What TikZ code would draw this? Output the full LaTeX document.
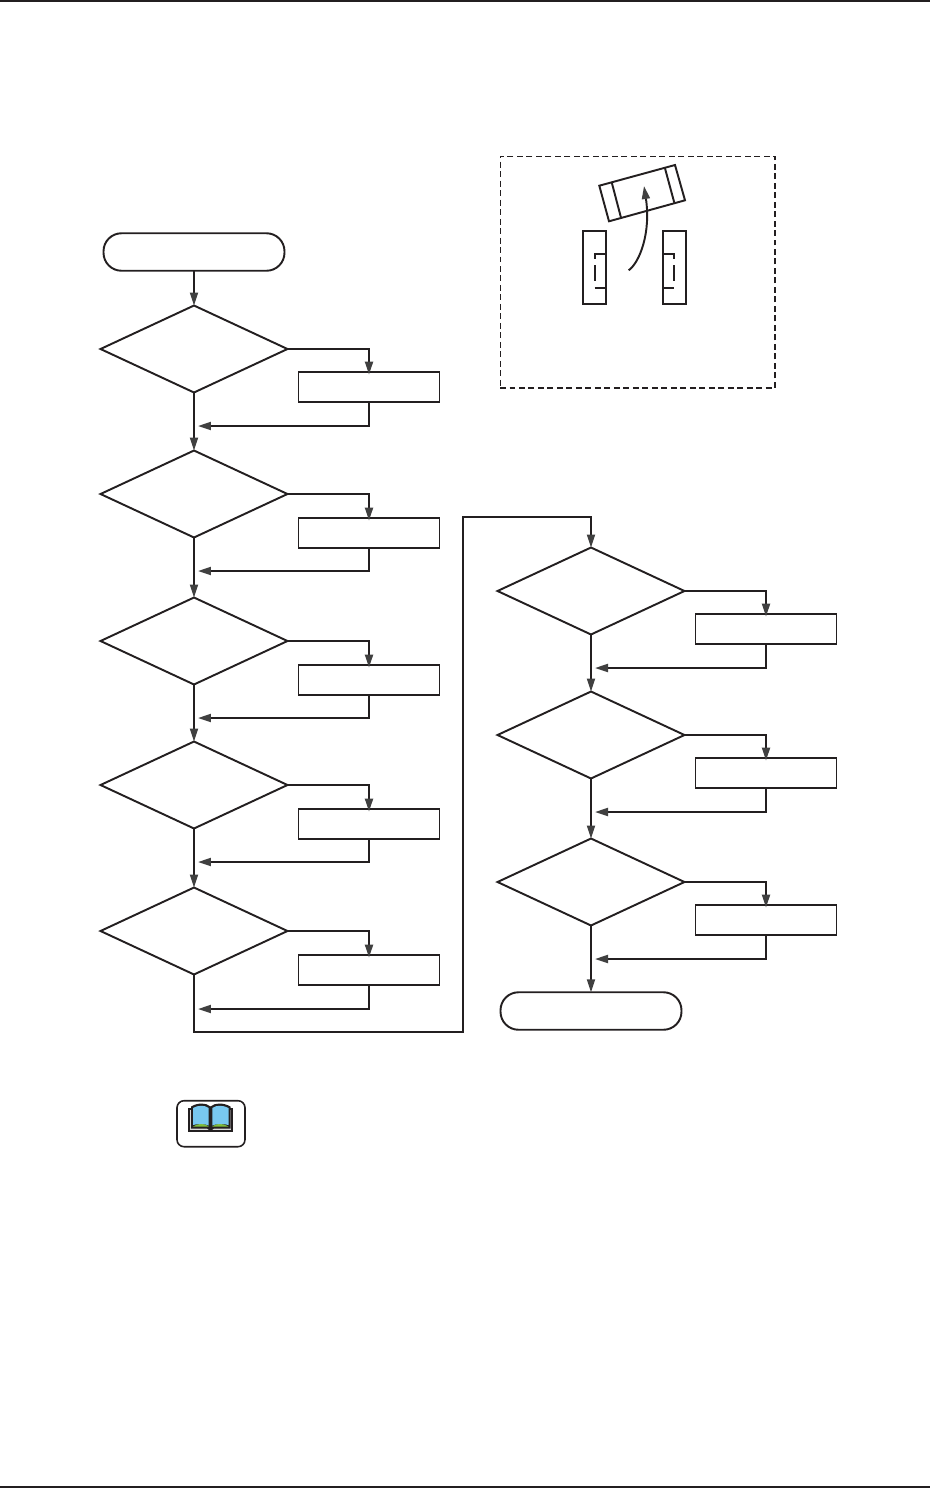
\documentclass[tikz,border=0pt]{standalone}
\usepackage{tikz}
\definecolor{inkline}{RGB}{35, 31, 32}
\definecolor{tipgray}{RGB}{64, 64, 64}
\definecolor{pageblue}{RGB}{120, 200, 240}
\definecolor{pagegreen}{RGB}{130, 190, 60}
\usetikzlibrary{shapes.geometric, arrows.meta, positioning}

\begin{document}
\begin{tikzpicture}[
    x=0.02cm, y=-0.02cm,
    term/.style={draw=inkline, line width=1.1pt, rounded corners=0.36cm,
                 minimum width=3.62cm, minimum height=0.75cm, outer sep=0pt},
    check/.style={draw=inkline, line width=1.1pt, diamond, aspect=2.15, inner sep=0pt,
                  minimum width=3.74cm, minimum height=1.74cm, outer sep=0pt},
    fixbox/.style={draw=inkline, line width=1.1pt,
                   minimum width=2.82cm, minimum height=0.6cm, outer sep=0pt},
    flow/.style={draw=inkline, line width=1.1pt,
                 -{Triangle[length=0.26cm, width=0.16cm, color=tipgray]}},
    inset/.style={draw=inkline, line width=0.6pt, dash pattern=on 3.4pt off 2pt,
                  minimum width=5.5cm, minimum height=4.64cm, outer sep=0pt},
    carline/.style={draw=inkline, line width=1.1pt}
]
    \useasboundingbox (0,0) rectangle (930,1488);

    % Page rules
    \coordinate (topl) at (0,1);
    \coordinate (topr) at (930,1);
    \coordinate (botl) at (0,1487);
    \coordinate (botr) at (930,1487);
    \draw[inkline, line width=1.2pt] (topl) -- (topr);
    \draw[inkline, line width=1.2pt] (botl) -- (botr);

    % Left column
    \node[term] (start) at (194,252) {};
    \node[check] (dec1) at (194,349) {};
    \node[check] (dec2) at (194,494) {};
    \node[check] (dec3) at (194,641) {};
    \node[check] (dec4) at (194,785) {};
    \node[check] (dec5) at (194,931) {};
    \node[fixbox] (box1) at (369,387) {};
    \node[fixbox] (box2) at (369,533) {};
    \node[fixbox] (box3) at (369,680) {};
    \node[fixbox] (box4) at (369,824) {};
    \node[fixbox] (box5) at (369,970) {};

    % Right column
    \node[check] (dec6) at (591,591) {};
    \node[check] (dec7) at (591,735) {};
    \node[check] (dec8) at (591,882) {};
    \node[fixbox] (box6) at (766,629) {};
    \node[fixbox] (box7) at (766,773) {};
    \node[fixbox] (box8) at (766,920) {};
    \node[term] (finish) at (591,1011) {};

    % Return points beside the main line
    \coordinate (ret1) at (198,426);
    \coordinate (ret2) at (198,571);
    \coordinate (ret3) at (198,718);
    \coordinate (ret4) at (198,862);
    \coordinate (ret5) at (198,1009);
    \coordinate (ret6) at (595,668);
    \coordinate (ret7) at (595,812);
    \coordinate (ret8) at (595,959);
    \coordinate (lowbend) at (463,1032);
    \coordinate (topbend) at (463,517);

    % Main line
    \draw[flow] (start) -- (dec1);
    \draw[flow] (dec1) -- (dec2);
    \draw[flow] (dec2) -- (dec3);
    \draw[flow] (dec3) -- (dec4);
    \draw[flow] (dec4) -- (dec5);
    \draw[flow] (dec5.south) |- (lowbend) -- (topbend) -| (dec6.north);
    \draw[flow] (dec6) -- (dec7);
    \draw[flow] (dec7) -- (dec8);
    \draw[flow] (dec8) -- (finish);

    % Branches
    \draw[flow, shorten >=-1.5pt] (dec1.east) -| (box1.north);
    \draw[flow, shorten >=-1.5pt] (dec2.east) -| (box2.north);
    \draw[flow, shorten >=-1.5pt] (dec3.east) -| (box3.north);
    \draw[flow, shorten >=-1.5pt] (dec4.east) -| (box4.north);
    \draw[flow, shorten >=-1.5pt] (dec5.east) -| (box5.north);
    \draw[flow, shorten >=-1.5pt] (dec6.east) -| (box6.north);
    \draw[flow, shorten >=-1.5pt] (dec7.east) -| (box7.north);
    \draw[flow, shorten >=-1.5pt] (dec8.east) -| (box8.north);
    \draw[flow] (box1.south) |- (ret1);
    \draw[flow] (box2.south) |- (ret2);
    \draw[flow] (box3.south) |- (ret3);
    \draw[flow] (box4.south) |- (ret4);
    \draw[flow] (box5.south) |- (ret5);
    \draw[flow] (box6.south) |- (ret6);
    \draw[flow] (box7.south) |- (ret7);
    \draw[flow] (box8.south) |- (ret8);

    % Inset with the cars
    \node[inset] (frame) at (637.5,272) {};
    \draw[carline] (582.7,230.7) rectangle (606,304.3);
    \draw[carline] (606,253.7) -- (594.7,253.7) -- (594.7,259);
    \draw[carline] (594.7,265) -- (594.7,280.7);
    \draw[carline] (594.7,288) -- (606,288);
    \draw[carline] (662.7,230.7) rectangle (686.3,304.3);
    \draw[carline] (662.7,253.7) -- (674.3,253.7) -- (674.3,259);
    \draw[carline] (674.3,265) -- (674.3,280.7);
    \draw[carline] (662.7,288) -- (674.3,288);
    \draw[carline] (599.3,185.7) -- (675,165) -- (685,200.3) -- (609,221.3) -- cycle;
    \draw[carline] (611.7,182.3) -- (621,217.7);
    \draw[carline] (665,168.3) -- (674.3,202.7);
    \draw[flow] (628.7,270.3) .. controls (640,262) and (651,232) .. (644,186);

    % Book icon
    \node[draw=inkline, line width=0.9pt, rounded corners=0.14cm,
          minimum width=1.36cm, minimum height=0.92cm, outer sep=0pt] (bookbox) at (211,1123.7) {};
    \fill[inkline] (188,1108) rectangle (233,1131.5);
    \fill[white!85!black] (190,1110) rectangle (231,1129.5);
    \fill[inkline] (191,1128.5) -- (191,1106.5) .. controls (198,1102.5) and (206,1102.5) .. (210.5,1106.5)
        .. controls (215,1102.5) and (223,1102.5) .. (230.5,1106.5) -- (230.5,1128.5) -- (214,1128.5) -- (210.5,1131) -- (207,1128.5) -- cycle;
    \fill[pagegreen] (193,1126.5) .. controls (198,1123) and (205,1123) .. (208.7,1126.5) -- cycle;
    \fill[pagegreen] (212.3,1126.5) .. controls (216,1123) and (223,1123) .. (228.5,1126.5) -- cycle;
    \fill[pageblue] (193,1125) -- (193,1108) .. controls (198,1105) and (205,1105) .. (208.7,1108)
        -- (208.7,1125.5) .. controls (205,1123.5) and (198,1123.5) .. cycle;
    \fill[pageblue] (212.3,1108) .. controls (216,1105) and (223,1105) .. (228.5,1108)
        -- (228.5,1125) .. controls (223,1123.5) and (216,1123.5) .. (212.3,1125.5) -- cycle;
\end{tikzpicture}
\end{document}
